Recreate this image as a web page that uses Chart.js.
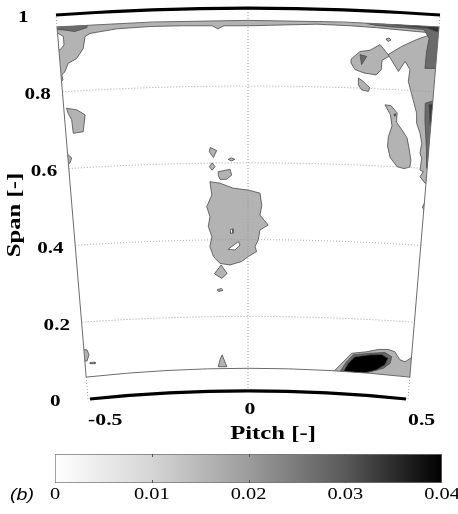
<!DOCTYPE html>
<html><head><meta charset="utf-8">
<script src="https://cdn.jsdelivr.net/npm/chart.js@4.4.1/dist/chart.umd.min.js"></script>
<style>
html,body{margin:0;padding:0;background:#fff;}
#wrap{position:relative;width:458px;height:514px;overflow:hidden;}
#main{position:absolute;left:0;top:0;}
#cbar{position:absolute;left:0;top:445px;}
</style></head><body>
<div id="wrap"><canvas id="main" width="458" height="445"></canvas><canvas id="cbar" width="458" height="69"></canvas></div>
<script>
// ---------- axis / tick data ----------
const pitchTicks = [-0.5, 0, 0.5];
const spanTicks = [0, 0.2, 0.4, 0.6, 0.8, 1];
const cbarTicks = [0, 0.01, 0.02, 0.03, 0.04];
const cbarRange = [0, 0.04];

// ---------- passage geometry (span values) ----------
const hubSpan = 0, casingSpan = 1;          // thick hub / casing arcs
const domainSpan = [0.057, 0.969];          // measured region, bottom / top

// ---------- contour polygons  [pitch, span] ----------
const bandTop = [[-0.65,1.039],[0.6625,1.039],[0.6625,0.555],[0.553,0.562],[0.5375,0.579],[0.548,0.592],[0.5375,0.596],[0.543,0.627],[0.5375,0.640],[0.543,0.666],[0.5375,0.692],[0.527,0.718],[0.527,0.744],[0.516,0.779],[0.512,0.792],[0.501,0.827],[0.506,0.858],[0.491,0.879],[0.470,0.853],[0.438,0.897],[0.480,0.918],[0.527,0.936],[0.558,0.945],[0.579,0.953],[0.527,0.957],[0.475,0.961],[0.402,0.967],[0.319,0.972],[0.215,0.976],[0.110,0.974],[0.006,0.972],[-0.075,0.972],[-0.094,0.964],[-0.1125,0.972],[-0.203,0.972],[-0.306,0.970],[-0.410,0.964],[-0.494,0.952],[-0.509,0.944],[-0.515,0.913],[-0.535,0.887],[-0.562,0.874],[-0.572,0.852],[-0.582,0.844],[-0.578,0.831],[-0.5875,0.826],[-0.65,0.818],[-0.65,1.039]];
const cornerHole = [[-0.65,0.953],[-0.593,0.952],[-0.577,0.944],[-0.575,0.922],[-0.5875,0.909],[-0.65,0.909],[-0.65,0.953]];
const cornerDark = [[-0.619,0.99],[-0.494,0.99],[-0.504,0.967],[-0.541,0.957],[-0.577,0.961],[-0.619,0.964],[-0.619,0.99]];
const topRightDark = [[0.37,1.0],[0.65,1.0],[0.65,0.857],[0.584,0.861],[0.553,0.861],[0.558,0.904],[0.566,0.939],[0.55,0.962],[0.5,0.966],[0.45,0.969],[0.40,0.973],[0.37,0.978],[0.37,1.0]];
const topRightCore = [[0.44,1.0],[0.62,1.0],[0.62,0.95],[0.585,0.958],[0.56,0.966],[0.5,0.970],[0.45,0.975],[0.44,1.0]];
const rightEdgeDark = [[0.554,0.770],[0.63,0.79],[0.63,0.60],[0.559,0.602],[0.5578,0.648],[0.553,0.727],[0.554,0.770]];
const rightEdgeCore = [[0.566,0.766],[0.63,0.78],[0.63,0.70],[0.569,0.713],[0.566,0.766]];
const blobL = [[0.322,0.885],[0.350,0.905],[0.381,0.908],[0.4125,0.923],[0.442,0.893],[0.419,0.882],[0.416,0.857],[0.400,0.844],[0.3625,0.849],[0.334,0.858],[0.322,0.875],[0.322,0.885]];
const blobLDark = [[0.350,0.897],[0.371,0.892],[0.355,0.871],[0.350,0.897]];
const islandBelowL = [[0.345,0.836],[0.360,0.827],[0.381,0.810],[0.376,0.801],[0.355,0.805],[0.345,0.818],[0.345,0.836]];
const islandTiny = [[0.431,0.9375],[0.441,0.940],[0.447,0.935],[0.4375,0.931],[0.431,0.9375]];
const islandRight = [[0.428,0.766],[0.447,0.764],[0.466,0.745],[0.464,0.721],[0.481,0.701],[0.497,0.680],[0.503,0.654],[0.509,0.622],[0.506,0.604],[0.4875,0.600],[0.466,0.605],[0.444,0.629],[0.436,0.659],[0.439,0.684],[0.45,0.711],[0.445,0.740],[0.428,0.766]];
const islandRightDot = [[0.456,0.742],[0.4625,0.742],[0.459,0.736],[0.456,0.742]];
const rightBump = [[0.553,0.512],[0.63,0.52],[0.63,0.488],[0.551,0.490],[0.545,0.50],[0.553,0.512]];
const leftIsland = [[-0.567,0.757],[-0.535,0.753],[-0.509,0.740],[-0.515,0.696],[-0.546,0.692],[-0.551,0.727],[-0.562,0.744],[-0.567,0.757]];
const leftBump = [[-0.65,0.643],[-0.569,0.641],[-0.551,0.628],[-0.556,0.615],[-0.569,0.607],[-0.65,0.607],[-0.65,0.643]];
const leftBumpLow = [[-0.6,0.130],[-0.503,0.128],[-0.497,0.115],[-0.503,0.099],[-0.6,0.099],[-0.6,0.130]];
const leftDash = [[-0.494,0.095],[-0.478,0.096],[-0.478,0.092],[-0.494,0.092],[-0.494,0.095]];
const centerBlob = [[-0.119,0.566],[-0.0875,0.562],[-0.046,0.549],[0.001,0.544],[0.0375,0.536],[0.043,0.505],[0.0375,0.479],[0.063,0.453],[0.0375,0.440],[0.032,0.414],[0.022,0.397],[0.027,0.384],[0.001,0.371],[-0.020,0.358],[-0.056,0.349],[-0.0875,0.353],[-0.108,0.371],[-0.119,0.397],[-0.113,0.423],[-0.124,0.449],[-0.119,0.475],[-0.129,0.501],[-0.113,0.531],[-0.119,0.566]];
const centerHole = [[-0.062,0.390],[-0.030,0.410],[-0.025,0.401],[-0.041,0.388],[-0.062,0.390]];
const centerPin = [[-0.055,0.441],[-0.048,0.443],[-0.047,0.432],[-0.056,0.432],[-0.055,0.441]];
const centerDiamond = [[-0.084,0.349],[-0.065,0.327],[-0.082,0.314],[-0.105,0.326],[-0.084,0.349]];
const centerDash = [[-0.097,0.284],[-0.084,0.288],[-0.078,0.283],[-0.091,0.280],[-0.097,0.284]];
const isle1 = [[-0.118,0.655],[-0.098,0.647],[-0.108,0.629],[-0.121,0.644],[-0.118,0.655]];
const isle2 = [[-0.112,0.615],[-0.103,0.605],[-0.112,0.596],[-0.121,0.605],[-0.112,0.615]];
const isle3 = [[-0.093,0.592],[-0.056,0.598],[-0.051,0.583],[-0.067,0.572],[-0.0875,0.572],[-0.093,0.583],[-0.093,0.592]];
const isle4 = [[-0.062,0.624],[-0.052,0.628],[-0.041,0.624],[-0.052,0.620],[-0.062,0.624]];
const lowTriangle = [[-0.081,0.115],[-0.066,0.084],[-0.093,0.084],[-0.0875,0.102],[-0.081,0.115]];
const wakeOuter = [[0.267,0.071],[0.298,0.097],[0.324,0.119],[0.371,0.123],[0.407,0.129],[0.438,0.129],[0.459,0.123],[0.475,0.102],[0.491,0.097],[0.5125,0.109],[0.5375,0.112],[0.5375,0.036],[0.225,0.036],[0.225,0.068],[0.267,0.071]];
const wakeMid = [[0.2875,0.071],[0.308,0.097],[0.329,0.115],[0.381,0.119],[0.428,0.121],[0.449,0.110],[0.444,0.093],[0.423,0.080],[0.381,0.071],[0.340,0.065],[0.2875,0.071]];
const wakeCore = [[0.298,0.071],[0.313,0.093],[0.334,0.110],[0.381,0.115],[0.418,0.116],[0.438,0.106],[0.428,0.089],[0.402,0.076],[0.360,0.067],[0.319,0.066],[0.298,0.071]];

// [polygon, contour level]
const regions = [
  [bandTop,1],[cornerHole,0],[cornerDark,2],[topRightDark,2],[topRightCore,3],[rightEdgeDark,2],[rightEdgeCore,3],
  [blobL,1],[blobLDark,2],[islandBelowL,1],[islandTiny,1],[islandRight,1],[islandRightDot,2],[rightBump,1],
  [leftIsland,1],[leftBump,1],[leftBumpLow,1],[leftDash,1],
  [centerBlob,1],[centerHole,0],[centerPin,0],[centerDiamond,1],[centerDash,1],[isle1,1],[isle2,1],[isle3,1],[isle4,1],[lowTriangle,1],
  [wakeOuter,1],[wakeMid,2],[wakeCore,4]
];

// ---------- styles ----------
const levelFill = {0:'#ffffff',1:'#b3b3b3',2:'#6a6a6a',3:'#333333',4:'#000000'};
const levelOrder = {1:10,0:9,2:8,3:7,4:6};
const cmapStops = [[0,'#ffffff'],[0.25,'#d5d5d5'],[0.5,'#9c9c9c'],[0.75,'#595959'],[1,'#000000']];
const serif = '"Liberation Serif", "Times New Roman", serif';

// geometry helpers (curvature of the annular passage)
const edgeP = v => 0.5 + 0.1 * v;
const sagFor = {hub:0.021, casing:0.018, bottom:0.023, top:0.017, grid:0.015};

function arc(ctx, xs, ys, v, sag, hw, move, reverse) {
  const a = reverse ? hw : -hw, b = reverse ? -hw : hw;
  const y0 = ys.getPixelForValue(v), ym = ys.getPixelForValue(v + sag);
  if (move) ctx.moveTo(xs.getPixelForValue(a), y0); else ctx.lineTo(xs.getPixelForValue(a), y0);
  ctx.quadraticCurveTo(xs.getPixelForValue(0), 2 * ym - y0, xs.getPixelForValue(b), y0);
}
function domainPath(ctx, xs, ys) {
  arc(ctx, xs, ys, domainSpan[1], sagFor.top, edgeP(domainSpan[1]), true, false);
  arc(ctx, xs, ys, domainSpan[0], sagFor.bottom, edgeP(domainSpan[0]), false, true);
  ctx.closePath();
}
function sText(ctx, txt, x, y, align, font, size, sx, rot) {
  ctx.save();
  ctx.font = font;
  ctx.textBaseline = 'alphabetic';
  ctx.textAlign = 'left';
  ctx.fillStyle = '#000';
  const w = ctx.measureText(txt).width * sx;
  ctx.translate(x, y);
  if (rot) ctx.rotate(rot);
  const x0 = align === 'center' ? -w / 2 : align === 'right' ? -w : 0;
  ctx.translate(x0, 0.34 * size);
  ctx.scale(sx, 1);
  ctx.fillText(txt, 0, 0);
  ctx.restore();
}

const sectorPlugin = {
  id: 'sector',
  beforeDatasetsDraw(chart) {
    const {ctx, scales: {x, y}} = chart;
    ctx.save();
    ctx.beginPath();
    domainPath(ctx, x, y);
    ctx.clip();
  },
  afterDatasetsDraw(chart) {
    const {ctx, scales: {x, y}, chartArea: ca} = chart;
    ctx.restore();
    // dotted grid
    ctx.save();
    ctx.strokeStyle = '#9c9c9c'; ctx.lineWidth = 1; ctx.setLineDash([1, 2]);
    spanTicks.filter(v => v > 0 && v < 1).forEach(v => {
      ctx.beginPath(); arc(ctx, x, y, v, sagFor.grid, edgeP(v), true, false); ctx.stroke();
    });
    ctx.beginPath();
    ctx.moveTo(x.getPixelForValue(0), y.getPixelForValue(hubSpan + sagFor.hub));
    ctx.lineTo(x.getPixelForValue(0), y.getPixelForValue(casingSpan + sagFor.casing));
    ctx.stroke();
    [-1, 1].forEach(s => {
      [[hubSpan, domainSpan[0]], [domainSpan[1], casingSpan]].forEach(([a, b]) => {
        ctx.beginPath();
        ctx.moveTo(x.getPixelForValue(s * edgeP(a)), y.getPixelForValue(a));
        ctx.lineTo(x.getPixelForValue(s * edgeP(b)), y.getPixelForValue(b));
        ctx.stroke();
      });
    });
    ctx.restore();
    // measured-domain outline
    ctx.save();
    ctx.strokeStyle = '#6a6a6a'; ctx.lineWidth = 1;
    ctx.beginPath(); domainPath(ctx, x, y); ctx.stroke();
    ctx.restore();
    // hub and casing
    ctx.save();
    ctx.strokeStyle = '#000'; ctx.lineWidth = 3.2;
    ctx.beginPath(); arc(ctx, x, y, casingSpan, sagFor.casing, edgeP(casingSpan), true, false); ctx.stroke();
    ctx.beginPath(); arc(ctx, x, y, hubSpan, sagFor.hub, edgeP(hubSpan) - 0.006, true, false); ctx.stroke();
    ctx.restore();
    // span tick labels (along the slanted edge)
    spanTicks.forEach(v => {
      sText(ctx, String(v), x.getPixelForValue(-edgeP(v)) - 38, y.getPixelForValue(v) + 2, 'left',
        'bold 16px ' + serif, 16, 1.32);
    });
    // pitch tick labels
    pitchTicks.forEach(t => {
      const yy = y.getPixelForValue(-0.053 + 0.03 * (1 - (t / 0.5) ** 2));
      sText(ctx, String(t), x.getPixelForValue(t) + (t === 0 ? 2 : 0), yy, t === 0 ? 'center' : 'left',
        'bold 17px ' + serif, 17, 1.28);
    });
    // axis titles
    sText(ctx, 'Pitch [-]', (ca.left + ca.right) / 2 + 25, 433, 'center', 'bold 19px ' + serif, 19, 1.3);
    sText(ctx, 'Span [-]', 14, 215, 'center', 'bold 19px ' + serif, 19, 1.3, -Math.PI / 2);
  }
};

new Chart(document.getElementById('main'), {
  type: 'line',
  data: {
    datasets: regions.map(([pts, lvl]) => ({
      data: pts.map(([px, py]) => ({x: px, y: py})),
      fill: 'shape',
      backgroundColor: levelFill[lvl],
      borderColor: '#4a4a4a',
      borderWidth: 0.8,
      pointRadius: 0,
      tension: 0,
      order: levelOrder[lvl]
    }))
  },
  options: {
    responsive: false,
    animation: false,
    events: [],
    layout: {padding: {left: 56, right: 18, top: 15, bottom: 46}},
    scales: {
      x: {type: 'linear', min: -0.6, max: 0.6, display: false},
      y: {type: 'linear', min: 0, max: 1, display: false}
    },
    plugins: {legend: {display: false}, tooltip: {enabled: false}}
  },
  plugins: [sectorPlugin]
});

// ---------- colour bar ----------
const cbarPlugin = {
  id: 'cbarText',
  afterDraw(chart) {
    const {ctx, scales: {x}, chartArea: ca} = chart;
    ctx.save();
    ctx.strokeStyle = '#555'; ctx.lineWidth = 1;
    cbarTicks.slice(1, -1).forEach(t => {
      const px = Math.round(x.getPixelForValue(t)) + 0.5;
      ctx.beginPath();
      ctx.moveTo(px, ca.top); ctx.lineTo(px, ca.top + 3);
      ctx.moveTo(px, ca.bottom); ctx.lineTo(px, ca.bottom - 3);
      ctx.stroke();
    });
    ctx.restore();
    cbarTicks.forEach(t => {
      sText(ctx, String(t), x.getPixelForValue(t), 48.5, 'center', '17px ' + serif, 17, 1.2);
    });
    sText(ctx, '(b)', 10, 49, 'left', 'italic 17px "Liberation Sans", Arial, sans-serif', 17, 1.15);
  }
};

new Chart(document.getElementById('cbar'), {
  type: 'bar',
  data: {
    labels: ['k'],
    datasets: [{
      data: [cbarRange],
      backgroundColor: (c) => {
        const ca = c.chart.chartArea;
        if (!ca) return '#999';
        const g = c.chart.ctx.createLinearGradient(ca.left, 0, ca.right, 0);
        cmapStops.forEach(([o, col]) => g.addColorStop(o, col));
        return g;
      },
      borderColor: '#777',
      borderWidth: 1,
      borderSkipped: false,
      barPercentage: 1,
      categoryPercentage: 1
    }]
  },
  options: {
    indexAxis: 'y',
    responsive: false,
    animation: false,
    events: [],
    layout: {padding: {left: 55, right: 16, top: 9, bottom: 31}},
    scales: {
      x: {type: 'linear', min: cbarRange[0], max: cbarRange[1], display: false},
      y: {display: false}
    },
    plugins: {legend: {display: false}, tooltip: {enabled: false}}
  },
  plugins: [cbarPlugin]
});
</script>
</body></html>
